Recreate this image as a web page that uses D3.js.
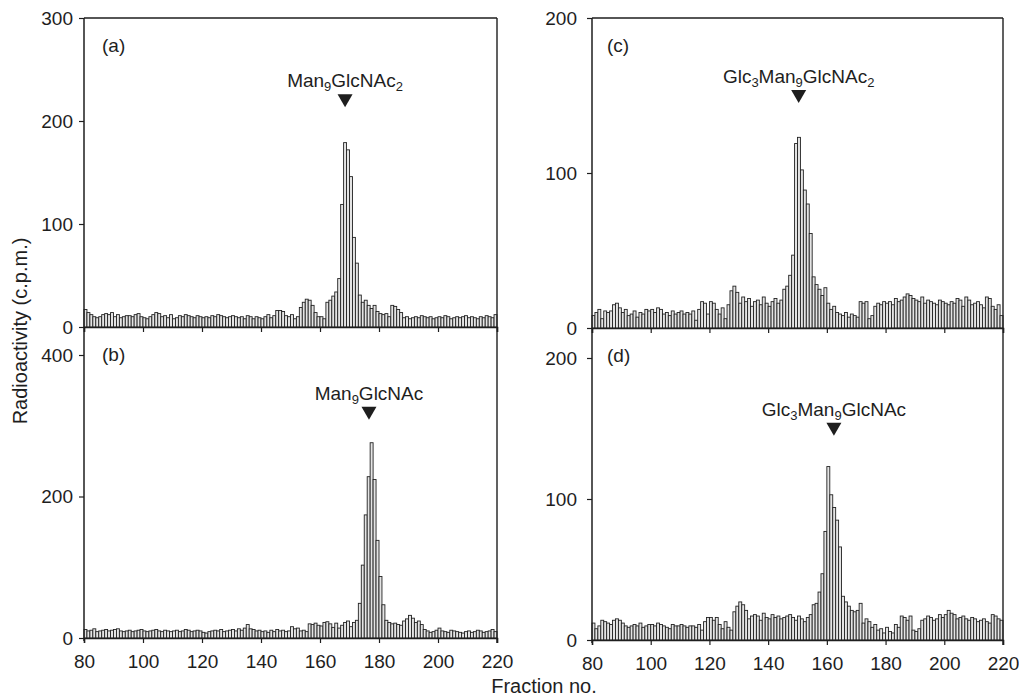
<!DOCTYPE html>
<html>
<head>
<meta charset="utf-8">
<script src="https://cdn.jsdelivr.net/npm/d3@7"></script>
<style>
  html, body { margin: 0; padding: 0; background: #fff; }
  svg { display: block; }
  text { font-family: "Liberation Sans", Arial, Helvetica, sans-serif; fill: #1e1e1e; }
</style>
</head>
<body>
<svg id="chart" width="1019" height="696"></svg>
<script>
// ---------------- DATA ----------------
const fractionStart = 80;           // first fraction shown
const fractionEnd = 220;            // axis end
const xTicks = [80, 100, 120, 140, 160, 180, 200, 220];

const yTicksA = [0, 100, 200, 300];
const yTicksB = [0, 200, 400];
const yTicksC = [0, 100, 200];
const yTicksD = [0, 100, 200];

// radioactivity (c.p.m.) per fraction, fractions 80..219
const valuesA = [
  17,14,12,10, 9,10,12,13,12,14,
  10,12, 9,10,11,11,10,12,13,10,
   9, 8,10,12,14,13,10,11, 9,12,
   8, 9,11,10,12,11,10, 9,11,10,
   9,10, 9,11,10,12,11,10, 9,10,
  11,10, 9,10, 8,11,10, 8,10, 9,
   8,10,12, 9,11,16,16,15,11,10,
  12, 8,10,19,24,27,26,21,14,10,
  10, 8,24,26,30,34,47,119,179,172,
  146,87,62,31,24,26,21,18,21,15,
  13,12,13,10,21,20,17,14, 9,10,
   8, 9,10, 9,11,10, 9,10, 8, 9,
  10, 9,11,10, 8, 9,10, 9,10,11,
   9,10, 9, 8,10, 9,11,10, 9,12
];
const valuesB = [
  12,10,11,13, 9,10,11,12,10,11,
  12,13,10, 9,10,11, 9,10,11,12,
  10, 9,10,11,12,10, 9,11,10, 9,
  10,11, 9,10,12,11, 9,10,11,10,
   8, 7, 9,10,11,10,12, 9,10,11,
  12,10,13,11,14,19,13,12,10,11,
   9,10, 8,11, 9,12,10,11, 9,10,
  16,13,14,10,11, 9,20,19,21,18,
  17,22,23,20,15,21,14,18,22,24,
  16,22,25,49,103,174,228,276,224,138,
  87,47,25,22,20,21,19,18,24,27,
  32,28,22,24,19,12,10, 8, 9,11,
  14,10, 9, 8,11,10, 9, 8, 7, 9,
  10, 8, 9,11,10, 8, 9,10,12, 9
];
const valuesC = [
   8,10,12, 6,11,10,11,15,16,13,
  10,12, 8, 9,11, 7,10, 9,12,11,
  12,10,13,12, 9,10, 8,11, 9,10,
  11, 9,10, 9,11, 5,12,17,16, 9,
  17,16,12, 9,13, 6,15,24,27,23,
  16,20,17,19,14,17,18,15,20,16,
  14,17,19,16,18,25,27,34,47,119,
  123,102,89,80,61,33,28,25,21,26,
  16,12,14,10, 9, 8,10, 7, 9, 8,
   7,17,16,17, 6, 8,14,16,15,17,
  16,17,15,19,17,18,20,22,21,19,
  18,17,20,16,18,17,16,15,18,17,
  16,15,17,16,19,18,14,20,18,15,
  16,17,15,13,20,19,14,12,15, 8
];
const valuesD = [
  12, 8,10,14,13,12,11,14,15,14,
  12,10, 9,10,11,10,12, 9,10,11,
  11,10,12,11,10, 9, 8,11,10,10,
  11,10, 9,10,10, 9,11, 7,13,16,
  16,14,16,11, 8,13, 9, 7,20,24,
  27,25,21,15,17,18,17,14,19,16,
  15,18,16,17,15,16,17,18,16,14,
  17,15,13,16,18,25,26,34,47,77,
  123,103,94,85,66,31,27,24,21,20,
  21,26,12,15,13, 9,11, 7, 8, 5,
   9, 6, 5,11, 9,17,16,14,17, 7,
   6, 8,14,15,17,16,14,15,18,16,
  18,21,19,18,15,16,17,15,14,16,
  15,13,14,15,13,12,18,17,15,14
];

const panelLabels = ["(a)", "(b)", "(c)", "(d)"];
// marker: fraction position, value where the triangle sits, label parts [text, isSubscript]
const markerFractions = [168.5, 176.6, 150.4, 162.4];
const markerValues = [226, 327, 153.5, 154];
const markerTexts = [
  [["Man", 0], ["9", 1], ["GlcNAc", 0], ["2", 1]],
  [["Man", 0], ["9", 1], ["GlcNAc", 0]],
  [["Glc", 0], ["3", 1], ["Man", 0], ["9", 1], ["GlcNAc", 0], ["2", 1]],
  [["Glc", 0], ["3", 1], ["Man", 0], ["9", 1], ["GlcNAc", 0]]
];
const yAxisTitle = "Radioactivity (c.p.m.)";
const xAxisTitle = "Fraction no.";

// ---------------- LAYOUT ----------------
const panels = [
  { values: valuesA, ticks: yTicksA, x0: 84,  x1: 497,  top: 18,  base: 327, yTop: 300, yTopPx: 18,  pad: 6,  bottomLabels: false },
  { values: valuesB, ticks: yTicksB, x0: 84,  x1: 497,  top: 327, base: 638, yTop: 400, yTopPx: 355, pad: 6,  bottomLabels: true },
  { values: valuesC, ticks: yTicksC, x0: 592, x1: 1003, top: 18,  base: 328, yTop: 200, yTopPx: 18,  pad: 10, bottomLabels: false },
  { values: valuesD, ticks: yTicksD, x0: 592, x1: 1003, top: 328, base: 640, yTop: 200, yTopPx: 358, pad: 10, bottomLabels: true }
];

const svg = d3.select("#chart");
const ink = "#1e1e1e";
const fontFam = "'Liberation Sans', Arial, sans-serif";
const fractions = d3.range(fractionStart, fractionEnd);

panels.forEach((p, i) => {
  const x = d3.scaleLinear().domain([fractionStart, fractionEnd]).range([p.x0, p.x1]);
  const y = d3.scaleLinear().domain([0, p.yTop]).range([p.base, p.yTopPx]);
  const g = svg.append("g");

  // bars
  g.append("g").selectAll("rect")
    .data(p.values)
    .join("rect")
    .attr("x", (d, k) => x(fractions[k]))
    .attr("width", (d, k) => x(fractions[k] + 1) - x(fractions[k]))
    .attr("y", d => y(d))
    .attr("height", d => y(0) - y(d))
    .attr("fill", "#e4e4e4")
    .attr("stroke", "#222")
    .attr("stroke-width", 0.9);

  // x axis (baseline)
  const xAxis = d3.axisBottom(x).tickValues(xTicks).tickSize(5).tickPadding(12)
    .tickFormat(p.bottomLabels ? d3.format("d") : () => "");
  const xa = g.append("g").attr("transform", `translate(0,${p.base})`).call(xAxis);
  xa.select(".domain").attr("stroke", ink).attr("stroke-width", 1.5);
  xa.selectAll(".tick line").attr("stroke", ink).attr("stroke-width", 1.2);
  xa.selectAll(".tick text").attr("font-size", 19).attr("fill", ink).style("font-family", fontFam);

  // y axis
  const yAxis = d3.axisLeft(y).tickValues(p.ticks).tickSize(5).tickPadding(p.pad).tickFormat(d3.format("d"));
  const ya = g.append("g").attr("transform", `translate(${p.x0},0)`).call(yAxis);
  ya.select(".domain").remove();
  ya.append("line").attr("x1", 0).attr("x2", 0).attr("y1", p.top).attr("y2", p.base + (p.bottomLabels ? 3 : 0))
    .attr("stroke", ink).attr("stroke-width", 1.5);
  ya.selectAll(".tick line").attr("stroke", ink).attr("stroke-width", 1.2);
  ya.selectAll(".tick text").attr("font-size", 19).attr("fill", ink).style("font-family", fontFam);

  // right border
  g.append("line").attr("x1", p.x1).attr("x2", p.x1).attr("y1", p.top).attr("y2", p.base + (p.bottomLabels ? 5 : 0))
    .attr("stroke", ink).attr("stroke-width", 1.4);
  // top border for upper panels
  if (!p.bottomLabels) {
    g.append("line").attr("x1", p.x0).attr("x2", p.x1).attr("y1", p.top).attr("y2", p.top)
      .attr("stroke", ink).attr("stroke-width", 1.5);
  }

  // panel label
  g.append("text").attr("x", p.x0 + (p.x0 < 300 ? 18 : 15)).attr("y", p.top + 34)
    .attr("font-size", 19).text(panelLabels[i]);

  // marker triangle
  const mx = x(markerFractions[i]);
  const my = y(markerValues[i]);
  g.append("path")
    .attr("d", `M${mx - 7.5},${my} L${mx + 7.5},${my} L${mx},${my + 13} Z`)
    .attr("fill", ink);
  const t = g.append("text").attr("x", mx).attr("y", my - 7)
    .attr("text-anchor", "middle").attr("font-size", 19);
  let inSub = false;
  markerTexts[i].forEach(([s, sub]) => {
    const ts = t.append("tspan").text(s);
    if (sub) {
      ts.attr("font-size", 13).attr("dy", inSub ? 0 : 4);
      inSub = true;
    } else {
      ts.attr("dy", inSub ? -4 : 0);
      inSub = false;
    }
  });
});

// axis titles
svg.append("text")
  .attr("transform", "translate(27,331) rotate(-90)")
  .attr("text-anchor", "middle").attr("font-size", 20)
  .text(yAxisTitle);
svg.append("text")
  .attr("x", 544).attr("y", 693)
  .attr("text-anchor", "middle").attr("font-size", 20)
  .text(xAxisTitle);
</script>
</body>
</html>
